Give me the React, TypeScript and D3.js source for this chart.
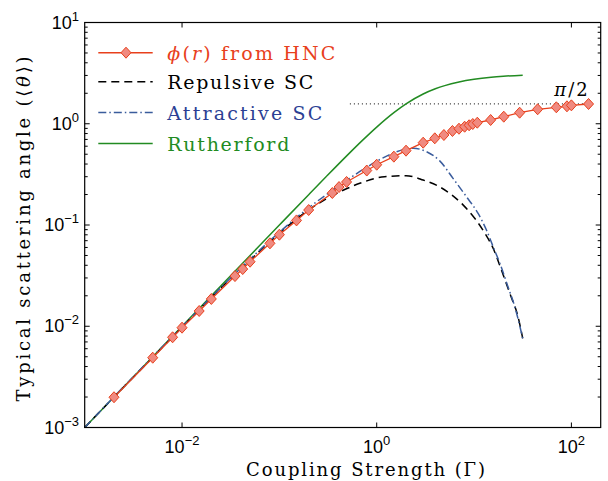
import React from 'react';
import * as d3 from 'd3';

const W = 608;
const H = 481;
const X0 = 84.7, X1 = 600.7, Y0 = 22.5, Y1 = 427.5;

// phi(r) from HNC
const hncGamma = [0.002, 0.005, 0.008, 0.01, 0.015, 0.02, 0.035, 0.042, 0.05, 0.08, 0.1, 0.15, 0.2, 0.35, 0.41, 0.49, 0.79, 1.0, 1.5, 2.0, 3.0, 3.95, 4.9, 6.0, 7.0, 8.0, 8.9, 9.7, 10.8, 14.8, 20.2, 29.4, 45, 70, 90, 100, 150];
const hncTheta = [0.00199, 0.00489, 0.00778, 0.00968, 0.01415, 0.0186, 0.0313, 0.0367, 0.0434, 0.0659, 0.0802, 0.111, 0.1406, 0.207, 0.237, 0.266, 0.345, 0.394, 0.473, 0.542, 0.65, 0.718, 0.774, 0.848, 0.893, 0.935, 0.966, 0.994, 1.024, 1.089, 1.174, 1.286, 1.39, 1.454, 1.487, 1.52, 1.567];

// Repulsive SC
const repGamma = [0.001, 0.002, 0.005, 0.01, 0.02, 0.05, 0.1, 0.2, 0.3, 0.42, 0.67, 1.2, 2.0, 3.0, 4.4, 5.9, 7.7, 10.2, 12.9, 15.7, 19.1, 23.3, 28.3, 31.6];
const repTheta = [0.001, 0.002, 0.00493, 0.0098, 0.0193, 0.045, 0.083, 0.141, 0.18, 0.213, 0.258, 0.3, 0.307, 0.278, 0.239, 0.198, 0.158, 0.116, 0.083, 0.059, 0.036, 0.0211, 0.0124, 0.0076];

// Attractive SC
const attGamma = [0.001, 0.01, 0.05, 0.1, 0.2, 0.35, 0.5, 0.8, 1.16, 1.6, 2.37, 3.24, 4.44, 6.08, 8.36, 11, 13.4, 15.7, 18.4, 22.3, 26.2, 31.6];
const attTheta = [0.001, 0.0099, 0.046, 0.085, 0.148, 0.22, 0.28, 0.375, 0.46, 0.53, 0.573, 0.53, 0.43, 0.289, 0.19, 0.13, 0.0893, 0.0611, 0.0419, 0.0246, 0.0156, 0.0076];

// Rutherford
const rutGamma = [0.001, 0.01, 0.05, 0.1, 0.2, 0.3, 0.5, 0.7, 1, 1.5, 2, 3, 4, 5, 7, 10, 15, 20, 31.6];
const rutTheta = [0.001, 0.01, 0.04997, 0.0999, 0.1993, 0.2977, 0.49, 0.6735, 0.927, 1.287, 1.571, 1.966, 2.214, 2.38, 2.584, 2.747, 2.878, 2.943, 3.015];

const piHalfGamma = [0.53, 150];
const piHalfTheta = 1.5708;

const xTickExps = [-2, 0, 2];
const yTickExps = [-3, -2, -1, 0, 1];

const RED = '#e8401c';
const RED_FILL = '#f08a80';
const BLUE = '#3a5c9c';
const BLUE_TEXT = '#2c3f94';
const GREEN = '#228b22';

const SERIF = "'DejaVu Serif', serif";
const SANS = "'Liberation Sans', Arial, 'DejaVu Sans', sans-serif";

function toPts(g: number[], t: number[]): [number, number][] {
  return g.map((v, i) => [v, t[i]]);
}

export default function App() {
  const x = d3.scaleLog().domain([1e-3, 200]).range([X0, X1]);
  const y = d3.scaleLog().domain([1e-3, 10]).range([Y1, Y0]);
  const line = d3
    .line<[number, number]>()
    .x((d) => x(d[0]))
    .y((d) => y(d[1]))
    .curve(d3.curveMonotoneX);
  const straight = d3
    .line<[number, number]>()
    .x((d) => x(d[0]))
    .y((d) => y(d[1]));

  const yMinor: number[] = [];
  for (let e = -3; e < 1; e++) {
    for (let k = 2; k <= 9; k++) yMinor.push(k * Math.pow(10, e));
  }

  const diamond = (cx: number, cy: number) =>
    `M${cx},${cy - 5.5}L${cx + 5},${cy}L${cx},${cy + 5.5}L${cx - 5},${cy}Z`;

  const legend = [
    { key: 'hnc', y: 52.7, color: RED, dash: undefined as string | undefined, marker: true },
    { key: 'rep', y: 81.7, color: '#000', dash: '8,5', marker: false },
    { key: 'att', y: 112.5, color: BLUE, dash: '8,3,1.5,3', marker: false },
    { key: 'rut', y: 143.5, color: GREEN, dash: undefined, marker: false },
  ];

  const serifStyle = { fontFamily: SERIF };
  const sansStyle = { fontFamily: SANS };

  return (
    <svg width={W} height={H} style={{ position: 'absolute', left: 0, top: 0, background: '#fff' }}>
      <rect x={0} y={0} width={W} height={H} fill="#fff" />
      {/* pi/2 dotted line */}
      <path
        d={straight(piHalfGamma.map((g) => [g, piHalfTheta] as [number, number])) || ''}
        stroke="#000"
        strokeWidth={1}
        strokeDasharray="1,3"
        fill="none"
      />
      <text x={571} y={96} style={serifStyle} fontSize={18} textAnchor="middle">
        <tspan fontStyle="italic">π</tspan>
        <tspan dx={2}>/</tspan>
        <tspan dx={2}>2</tspan>
      </text>

      {/* curves */}
      <path d={line(toPts(rutGamma, rutTheta)) || ''} stroke={GREEN} strokeWidth={1.5} fill="none" />
      <path d={line(toPts(repGamma, repTheta)) || ''} stroke="#000" strokeWidth={1.5} strokeDasharray="8,5" fill="none" />
      <path d={line(toPts(attGamma, attTheta)) || ''} stroke={BLUE} strokeWidth={1.5} strokeDasharray="8,3,1.5,3" fill="none" />
      <path d={straight(toPts(hncGamma, hncTheta)) || ''} stroke={RED} strokeWidth={1.3} fill="none" />
      {hncGamma.map((g, i) => (
        <path key={i} d={diamond(x(g), y(hncTheta[i]))} fill={RED_FILL} stroke={RED} strokeWidth={1} />
      ))}

      {/* frame */}
      <rect x={X0} y={Y0} width={X1 - X0} height={Y1 - Y0} fill="none" stroke="#000" strokeWidth={1.2} />

      {/* x ticks */}
      {xTickExps.map((e) => {
        const px = x(Math.pow(10, e));
        return (
          <g key={e}>
            <line x1={px} x2={px} y1={Y1} y2={Y1 - 5} stroke="#000" />
            <line x1={px} x2={px} y1={Y0} y2={Y0 + 5} stroke="#000" />
            <text x={px} y={453} style={sansStyle} fontSize={18} textAnchor="middle">
              10<tspan fontSize={13} dy={-8}>{e < 0 ? `\u2212${-e}` : `${e}`}</tspan>
            </text>
          </g>
        );
      })}
      {/* y ticks */}
      {yTickExps.map((e) => {
        const py = y(Math.pow(10, e));
        return (
          <g key={e}>
            <line x1={X0} x2={X0 + 5} y1={py} y2={py} stroke="#000" />
            <line x1={X1} x2={X1 - 5} y1={py} y2={py} stroke="#000" />
            <text x={79} y={py + 6} style={sansStyle} fontSize={18} textAnchor="end">
              10<tspan fontSize={13} dy={-8}>{e < 0 ? `\u2212${-e}` : `${e}`}</tspan>
            </text>
          </g>
        );
      })}
      {yMinor.map((v, i) => {
        const py = y(v);
        return (
          <g key={`m${i}`}>
            <line x1={X0} x2={X0 + 3} y1={py} y2={py} stroke="#000" />
            <line x1={X1} x2={X1 - 3} y1={py} y2={py} stroke="#000" />
          </g>
        );
      })}

      {/* legend */}
      {legend.map((l) => (
        <g key={l.key}>
          <line x1={98.3} x2={152.7} y1={l.y} y2={l.y} stroke={l.color} strokeWidth={1.5} strokeDasharray={l.dash} />
          {l.marker && <path d={diamond(126, l.y)} fill={RED_FILL} stroke={RED} strokeWidth={1} />}
        </g>
      ))}
      <text x={167.3} y={60} style={serifStyle} fontSize={19} fill={RED} textLength={168} lengthAdjust="spacing">
        <tspan fontStyle="italic">ϕ</tspan>(<tspan fontStyle="italic">r</tspan>) from HNC
      </text>
      <text x={167.3} y={89.3} style={serifStyle} fontSize={19} fill="#000" textLength={146} lengthAdjust="spacing">
        Repulsive SC
      </text>
      <text x={167.3} y={119.8} style={serifStyle} fontSize={19} fill={BLUE_TEXT} textLength={155} lengthAdjust="spacing">
        Attractive SC
      </text>
      <text x={167.3} y={150.5} style={serifStyle} fontSize={19} fill={GREEN} textLength={122} lengthAdjust="spacing">
        Rutherford
      </text>

      {/* axis labels */}
      <text x={246} y={476} style={serifStyle} fontSize={18} textLength={239} lengthAdjust="spacing">
        Coupling Strength (Γ)
      </text>
      <text
        transform={`translate(30,${229}) rotate(-90)`}
        style={serifStyle}
        fontSize={18}
        textAnchor="middle"
        textLength={345}
        lengthAdjust="spacing"
      >
        Typical scattering angle (⟨<tspan fontStyle="italic">θ</tspan>⟩)
      </text>
    </svg>
  );
}
